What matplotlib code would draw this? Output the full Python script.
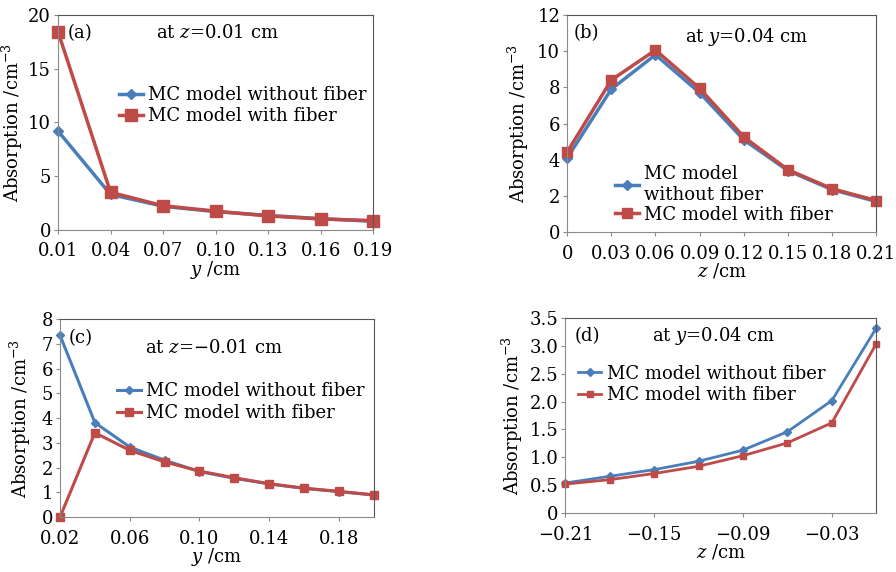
import matplotlib
matplotlib.use("Agg")
import matplotlib.pyplot as plt
from matplotlib.ticker import FuncFormatter

plt.rcParams["font.family"] = ["DejaVu Serif"]
plt.rcParams["mathtext.fontset"] = "dejavuserif"
plt.rcParams["font.size"] = 11

BLUE = "#4a7ebb"
RED = "#be4b48"

# (a) at z=0.01 cm
a_y = [0.01, 0.04, 0.07, 0.10, 0.13, 0.16, 0.19]
a_without = [9.2, 3.3, 2.2, 1.7, 1.35, 1.05, 0.8]
a_with = [18.45, 3.5, 2.25, 1.75, 1.3, 1.02, 0.87]

# (b) at y=0.04 cm
b_z = [0, 0.03, 0.06, 0.09, 0.12, 0.15, 0.18, 0.21]
b_without = [4.1, 7.9, 9.8, 7.7, 5.1, 3.4, 2.35, 1.7]
b_with = [4.43, 8.4, 10.06, 7.94, 5.26, 3.45, 2.4, 1.75]

# (c) at z=-0.01 cm
c_y = [0.02, 0.04, 0.06, 0.08, 0.10, 0.12, 0.14, 0.16, 0.18, 0.20]
c_without = [7.35, 3.82, 2.83, 2.3, 1.84, 1.57, 1.34, 1.16, 1.03, 0.89]
c_with = [0.0, 3.41, 2.7, 2.23, 1.86, 1.59, 1.35, 1.17, 1.04, 0.9]

# (d) at y=0.04 cm
d_z = [-0.21, -0.18, -0.15, -0.12, -0.09, -0.06, -0.03, 0.0]
d_without = [0.54, 0.66, 0.78, 0.93, 1.13, 1.46, 2.02, 3.32]
d_with = [0.52, 0.60, 0.71, 0.84, 1.03, 1.26, 1.62, 3.04]


def style_axes(ax, ylab_x):
    for side in ["left", "bottom"]:
        ax.spines[side].set_color("#8a8a8a")
    for side in ["top", "right"]:
        ax.spines[side].set_color("#555555")
    ax.tick_params(direction="out", length=3, width=0.8, color="#8a8a8a", labelsize=13)
    ax.tick_params(axis="x", pad=6)
    ax.tick_params(axis="y", pad=2)
    ax.set_ylabel("Absorption /cm$^{-3}$", fontsize=13)
    ax.yaxis.set_label_coords(ylab_x, 0.5)


def num_fmt(dec):
    return FuncFormatter(lambda v, p: "0" if abs(v) < 1e-9 else f"{v:.{dec}f}".replace("-", "\u2212"))


def add_legend(ax, **kw):
    ax.legend(frameon=False, fontsize=13, handlelength=1.3, handletextpad=0.3,
              borderpad=0, borderaxespad=0, **kw)


fig = plt.figure(figsize=(8.96, 5.72), dpi=100)

# panel a
ax = fig.add_axes([0.0647, 0.598, 0.352, 0.376])
ax.plot(a_y, a_without, color=BLUE, lw=2.5, marker="D", ms=5.5, clip_on=False, label="MC model without fiber")
ax.plot(a_y, a_with, color=RED, lw=2.5, marker="s", ms=8, clip_on=False, label="MC model with fiber")
ax.set_xlim(0.01, 0.19)
ax.set_ylim(0, 20)
ax.set_xticks(a_y)
ax.xaxis.set_major_formatter(num_fmt(2))
ax.set_yticks([0, 5, 10, 15, 20])
ax.set_xlabel("$y$ /cm", fontsize=13, labelpad=-1)
style_axes(ax, -0.104)
ax.text(0.032, 0.916, "(a)", transform=ax.transAxes, fontsize=13, va="center")
ax.text(0.506, 0.916, "at $z$=0.01 cm", transform=ax.transAxes, fontsize=13, ha="center", va="center")
add_legend(ax, loc="center left", bbox_to_anchor=(0.195, 0.578), labelspacing=0.2)

# panel b
ax = fig.add_axes([0.633, 0.594, 0.345, 0.380])
ax.plot(b_z, b_without, color=BLUE, lw=2.5, marker="D", ms=5, clip_on=False, label="MC model\nwithout fiber")
ax.plot(b_z, b_with, color=RED, lw=2.5, marker="s", ms=7.5, clip_on=False, label="MC model with fiber")
ax.set_xlim(0, 0.21)
ax.set_ylim(0, 12)
ax.set_xticks(b_z)
ax.xaxis.set_major_formatter(num_fmt(2))
ax.set_yticks([0, 2, 4, 6, 8, 10, 12])
ax.set_xlabel("$z$ /cm", fontsize=13, labelpad=-1)
style_axes(ax, -0.117)
ax.text(0.02, 0.917, "(b)", transform=ax.transAxes, fontsize=13, va="center")
ax.text(0.58, 0.9, "at $y$=0.04 cm", transform=ax.transAxes, fontsize=13, ha="center", va="center")
add_legend(ax, loc="lower left", bbox_to_anchor=(0.155, 0.04), labelspacing=0.1)

# panel c
ax = fig.add_axes([0.067, 0.096, 0.350, 0.346])
ax.plot(c_y, c_without, color=BLUE, lw=2.2, marker="D", ms=4, clip_on=False, label="MC model without fiber")
ax.plot(c_y, c_with, color=RED, lw=2.2, marker="s", ms=5.5, clip_on=False, label="MC model with fiber")
ax.set_xlim(0.02, 0.20)
ax.set_ylim(0, 8)
ax.set_xticks([0.02, 0.06, 0.10, 0.14, 0.18])
ax.xaxis.set_major_formatter(num_fmt(2))
ax.set_yticks(range(0, 9))
ax.set_xlabel("$y$ /cm", fontsize=13, labelpad=-1)
style_axes(ax, -0.086)
ax.text(0.026, 0.904, "(c)", transform=ax.transAxes, fontsize=13, va="center")
ax.text(0.49, 0.853, "at $z$=\u22120.01 cm", transform=ax.transAxes, fontsize=13, ha="center", va="center")
add_legend(ax, loc="center left", bbox_to_anchor=(0.182, 0.58), labelspacing=0.2)

# panel d
ax = fig.add_axes([0.631, 0.103, 0.347, 0.341])
ax.plot(d_z, d_without, color=BLUE, lw=2.0, marker="D", ms=4, clip_on=False, label="MC model without fiber")
ax.plot(d_z, d_with, color=RED, lw=2.0, marker="s", ms=4.5, clip_on=False, label="MC model with fiber")
ax.set_xlim(-0.21, 0.0)
ax.set_ylim(0, 3.5)
ax.set_xticks([-0.21, -0.15, -0.09, -0.03])
ax.xaxis.set_major_formatter(num_fmt(2))
ax.set_yticks([0, 0.5, 1.0, 1.5, 2.0, 2.5, 3.0, 3.5])
ax.yaxis.set_major_formatter(num_fmt(1))
ax.set_xlabel("$z$ /cm", fontsize=13, labelpad=-1)
style_axes(ax, -0.129)
ax.text(0.03, 0.908, "(d)", transform=ax.transAxes, fontsize=13, va="center")
ax.text(0.476, 0.908, "at $y$=0.04 cm", transform=ax.transAxes, fontsize=13, ha="center", va="center")
add_legend(ax, loc="center left", bbox_to_anchor=(0.04, 0.66), labelspacing=0.2)

fig.savefig("out.png", dpi=100)
